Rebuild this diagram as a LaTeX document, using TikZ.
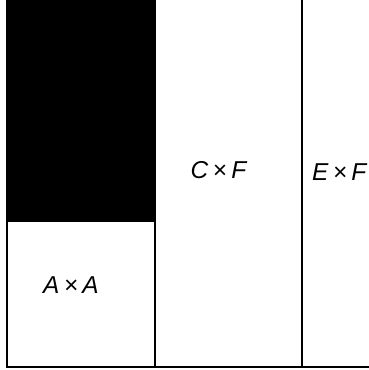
\documentclass[tikz,border=0pt]{standalone}
\usepackage{fontspec}
\setmainfont{Liberation Sans}
\newcommand{\tms}{\hspace{0.18em}×\hspace{0.18em}}
\begin{document}
\begin{tikzpicture}[x=1bp,y=-1bp,
  cell/.style={draw=black,line width=1.8bp,inner sep=0pt,outer sep=0pt,rectangle},
  lbl/.style={inner sep=0pt,font=\fontsize{24.5}{29}\selectfont\itshape}]
\useasboundingbox (0,0) rectangle (369,370);
\clip (0,0) rectangle (369,370);
\node[cell,fill=black,minimum width=148bp,minimum height=221.6bp] (top) at (81,110.2) {};
\node[cell,minimum width=148bp,minimum height=146bp] (aa) at (81,294) {};
\node[cell,minimum width=147bp,minimum height=367.6bp] (cf) at (228.5,183.2) {};
\node[cell,minimum width=147bp,minimum height=367.6bp] (ef) at (375.5,183.2) {};
\node[lbl] (aal) at (71,285) {A\tms A};
\node[lbl] (cfl) at (218.5,170.5) {C\tms F};
\node[lbl,anchor=west] (efl) at (312,172.5) {E\tms F};
\end{tikzpicture}
\end{document}
